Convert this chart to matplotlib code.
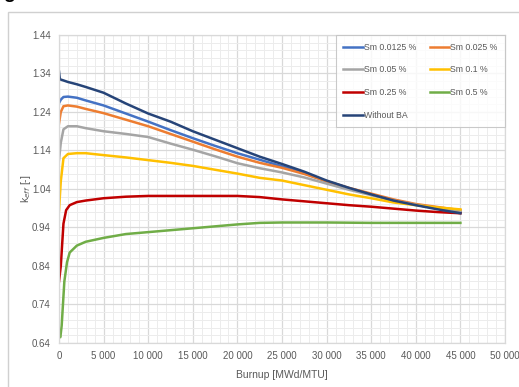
import matplotlib.pyplot as plt
import matplotlib.patches as mpatches
from matplotlib.ticker import MultipleLocator, FuncFormatter

plt.rcParams['font.family'] = ['Liberation Sans', 'DejaVu Sans']

# burnup points per series [MWd/MTU] and k_eff values
x_early = [0, 200, 500, 1000, 2000, 3000, 5000, 7500, 10000, 12500, 15000, 17500,
           20000, 22500, 25000, 27500, 30000, 32500, 35000, 37500, 40000, 42500, 45000]

k_sm_0125 = [1.263, 1.272, 1.279, 1.280, 1.277, 1.270, 1.257, 1.236, 1.215, 1.193, 1.172, 1.152,
             1.133, 1.116, 1.099, 1.081, 1.060, 1.042, 1.026, 1.011, 0.999, 0.989, 0.980]
k_sm_025 = [1.210, 1.240, 1.255, 1.257, 1.254, 1.248, 1.237, 1.220, 1.203, 1.183, 1.163, 1.143,
            1.124, 1.108, 1.095, 1.079, 1.060, 1.043, 1.028, 1.013, 1.001, 0.993, 0.985]
k_sm_05 = [1.115, 1.160, 1.195, 1.203, 1.203, 1.198, 1.190, 1.183, 1.175, 1.158, 1.142, 1.125,
           1.107, 1.094, 1.083, 1.070, 1.054, 1.038, 1.024, 1.010, 0.999, 0.990, 0.982]
k_sm_1 = [0.985, 1.060, 1.120, 1.131, 1.133, 1.133, 1.128, 1.122, 1.115, 1.108, 1.100, 1.090,
          1.080, 1.069, 1.062, 1.050, 1.038, 1.026, 1.016, 1.005, 0.998, 0.992, 0.987]

x_red = [0, 200, 500, 800, 1200, 2000, 3000, 5000, 7500, 10000, 15000, 20000,
         22500, 25000, 27500, 30000, 32500, 35000, 37500, 40000, 42500, 45000]
k_sm_25 = [0.800, 0.840, 0.950, 0.985, 0.998, 1.006, 1.010, 1.016, 1.020, 1.022, 1.022, 1.022,
           1.019, 1.013, 1.008, 1.003, 0.998, 0.994, 0.989, 0.984, 0.980, 0.977]

x_green = [0, 150, 300, 600, 900, 1200, 2000, 3000, 5000, 7500, 10000, 15000, 20000,
           22500, 25000, 30000, 35000, 40000, 45000]
k_sm_5 = [0.660, 0.655, 0.685, 0.800, 0.850, 0.875, 0.893, 0.903, 0.913, 0.923, 0.928, 0.938,
          0.948, 0.952, 0.953, 0.953, 0.952, 0.952, 0.952]

x_noba = [0, 100, 500, 1000, 2000, 3000, 5000, 7500, 10000, 12500, 15000, 17500, 20000,
          22500, 25000, 27500, 30000, 32500, 35000, 37500, 40000, 42500, 45000]
k_noba = [1.345, 1.325, 1.322, 1.318, 1.312, 1.305, 1.290, 1.262, 1.236, 1.215, 1.190, 1.168,
          1.146, 1.124, 1.105, 1.085, 1.062, 1.043, 1.026, 1.010, 0.998, 0.987, 0.977]


fig = plt.figure(figsize=(5.19, 3.87), dpi=100)

# outer chart frame
fig.patches.append(mpatches.Rectangle((8 / 519, -0.1), 1.2, 1 - 12 / 387 + 0.1,
                                      transform=fig.transFigure, fill=False,
                                      edgecolor="#d0d0d0", linewidth=1.0))
# tail of the panel letter above the frame
fig.text(3 / 519, 1 + 1.5 / 387, "g", fontsize=14, fontweight="bold", va="baseline", ha="left")

ax = fig.add_axes([59 / 519, 1 - 343 / 387, (505 - 59) / 519, (343 - 35) / 387])

lw = 1.8
h1, = ax.plot(x_early, k_sm_0125, color="#4472C4", lw=lw, label="Sm 0.0125 %")
h2, = ax.plot(x_early, k_sm_025, color="#ED7D31", lw=lw, label="Sm 0.025 %")
h3, = ax.plot(x_early, k_sm_05, color="#A5A5A5", lw=lw, label="Sm 0.05 %")
h4, = ax.plot(x_early, k_sm_1, color="#FFC000", lw=lw, label="Sm 0.1 %")
h5, = ax.plot(x_red, k_sm_25, color="#C00000", lw=lw, label="Sm 0.25 %")
h6, = ax.plot(x_green, k_sm_5, color="#70AD47", lw=lw, label="Sm 0.5 %")
h7, = ax.plot(x_noba, k_noba, color="#264478", lw=lw, label="Without BA")

ax.set_xlim(0, 50000)
ax.set_ylim(0.64, 1.44)
ax.xaxis.set_major_locator(MultipleLocator(5000))
ax.xaxis.set_minor_locator(MultipleLocator(1000))
ax.yaxis.set_major_locator(MultipleLocator(0.1, offset=0.04))
ax.yaxis.set_minor_locator(MultipleLocator(0.02))
ax.xaxis.set_major_formatter(FuncFormatter(lambda v, p: "0" if v == 0 else f"{int(round(v)):,}".replace(",", " ")))
ax.yaxis.set_major_formatter(FuncFormatter(lambda v, p: f"{v:.2f}"))

ax.grid(which="major", color="#d9d9d9", linewidth=0.9)
ax.grid(which="minor", color="#ececec", linewidth=0.7)
ax.set_axisbelow(True)
for s in ax.spines.values():
    s.set_color("#d9d9d9")
    s.set_linewidth(0.9)
ax.tick_params(which="both", length=0, labelsize=7, labelcolor="#595959", pad=6)

ax.set_xlabel("Burnup [MWd/MTU]", fontsize=7.5, color="#595959", labelpad=6)
ax.set_ylabel(r"k$_{eff}$ [-]", fontsize=7.5, color="#595959", labelpad=-1)

leg = ax.legend(handles=[h1, h3, h5, h7, h2, h4, h6], ncol=2, loc="upper right",
                borderaxespad=0, fontsize=6.3, frameon=True, fancybox=False,
                handlelength=2.2, handletextpad=0.1, columnspacing=1.6,
                labelspacing=1.55, borderpad=0.9)
leg.get_frame().set_edgecolor("#bfbfbf")
leg.get_frame().set_linewidth(0.8)
for t in leg.get_texts():
    t.set_color("#595959")

fig.savefig("out.png", dpi=100)
